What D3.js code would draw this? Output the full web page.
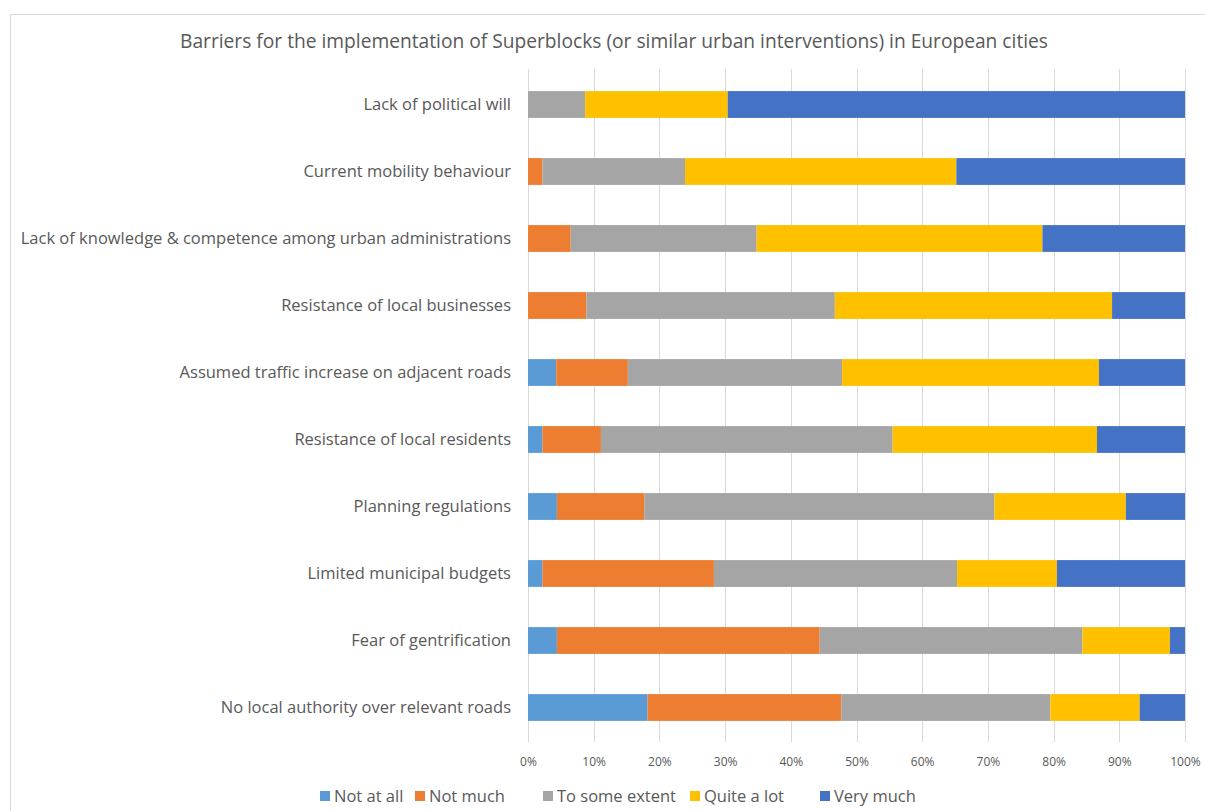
<!DOCTYPE html>
<html>
<head>
<meta charset="utf-8">
<script src="https://cdn.jsdelivr.net/npm/d3@7"></script>
<style>
  html, body { margin: 0; padding: 0; background: #fff; }
  svg { display: block; font-family: "Open Sans", "Noto Sans", sans-serif; }
</style>
</head>
<body>
<svg id="chart" width="1205" height="811"></svg>
<script>
// Survey barriers, top row first
const categories = [
  "Lack of political will",
  "Current mobility behaviour",
  "Lack of knowledge & competence among urban administrations",
  "Resistance of local businesses",
  "Assumed traffic increase on adjacent roads",
  "Resistance of local residents",
  "Planning regulations",
  "Limited municipal budgets",
  "Fear of gentrification",
  "No local authority over relevant roads"
];

// Answer levels (stack order, left to right)
const seriesNames = ["Not at all", "Not much", "To some extent", "Quite a lot", "Very much"];
const seriesColors = ["#5B9BD5", "#ED7D31", "#A5A5A5", "#FFC000", "#4472C4"];

// Share of respondents (%) per level, one array per level, in category order
const notAtAll     = [0,    0,    0,    0,    4.3,  2.2,  4.4,  2.2,  4.4,  18.2];
const notMuch      = [0,    2.2,  6.5,  8.9,  10.9, 8.9,  13.3, 26.1, 40.0, 29.5];
const toSomeExtent = [8.7,  21.7, 28.3, 37.8, 32.6, 44.4, 53.3, 37.0, 40.0, 31.8];
const quiteALot    = [21.7, 41.3, 43.5, 42.2, 39.1, 31.1, 20.0, 15.2, 13.3, 13.6];
const veryMuch     = [69.6, 34.8, 21.7, 11.1, 13.1, 13.4, 9.0,  19.5, 2.3,  6.9];

const tickValues = [0, 10, 20, 30, 40, 50, 60, 70, 80, 90, 100];
const titleText = "Barriers for the implementation of Superblocks (or similar urban interventions) in European cities";

const seriesValues = [notAtAll, notMuch, toSomeExtent, quiteALot, veryMuch];
const rows = categories.map((c, i) => {
  const r = { category: c };
  seriesNames.forEach((s, j) => { r[s] = seriesValues[j][i]; });
  return r;
});

const svg = d3.select("#chart");
const W = 1205, H = 811;

// chart frame
svg.append("rect")
  .attr("x", 10.5).attr("y", 14.5)
  .attr("width", 1300).attr("height", 900)
  .attr("fill", "#fff").attr("stroke", "#d9d9d9").attr("stroke-width", 1);

const margin = { left: 528, right: W - 1185, top: 71, bottom: H - 741 };

const x = d3.scaleLinear().domain([0, 100]).range([margin.left, W - margin.right]);
const y = d3.scaleBand().domain(categories).range([margin.top, H - margin.bottom]).paddingInner(0.6).paddingOuter(0.3);

// title
svg.append("text")
  .attr("x", 614).attr("y", 48)
  .attr("text-anchor", "middle")
  .attr("fill", "#595959")
  .attr("font-size", 19.2)
  .attr("textLength", 868)
  .attr("lengthAdjust", "spacingAndGlyphs")
  .text(titleText);

// vertical gridlines
svg.append("g")
  .selectAll("line")
  .data(tickValues)
  .join("line")
  .attr("x1", d => Math.round(x(d)) + 0.5)
  .attr("x2", d => Math.round(x(d)) + 0.5)
  .attr("y1", margin.top - 2)
  .attr("y2", H - margin.bottom + 1)
  .attr("stroke", "#d9d9d9")
  .attr("stroke-width", 1);

// stacked bars
const stack = d3.stack().keys(seriesNames);
const layers = stack(rows);

svg.append("g")
  .selectAll("g")
  .data(layers)
  .join("g")
  .attr("fill", (d, i) => seriesColors[i])
  .selectAll("rect")
  .data(d => d)
  .join("rect")
  .attr("x", d => x(d[0]))
  .attr("width", d => Math.max(0, x(d[1]) - x(d[0])))
  .attr("y", d => y(d.data.category))
  .attr("height", y.bandwidth());

// category axis labels
const yAxis = d3.axisLeft(y).tickSize(0).tickPadding(17);
const gy = svg.append("g")
  .attr("transform", `translate(${margin.left},0)`)
  .call(yAxis);
gy.select(".domain").remove();
gy.selectAll("text")
  .attr("fill", "#595959")
  .attr("font-size", 16.5)
  .attr("font-family", "'Open Sans', 'Noto Sans', sans-serif");

// percentage axis
const xAxis = d3.axisBottom(x).tickValues(tickValues).tickFormat(d => d + "%").tickSize(0).tickPadding(16);
const gx = svg.append("g")
  .attr("transform", `translate(0,${H - margin.bottom})`)
  .call(xAxis);
gx.select(".domain").remove();
gx.selectAll("text")
  .attr("fill", "#595959")
  .attr("font-size", 12)
  .attr("font-family", "'Open Sans', 'Noto Sans', sans-serif");

// legend
const legendX = [320, 415, 543, 690, 820];
const legend = svg.append("g");
const items = legend.selectAll("g")
  .data(seriesNames)
  .join("g")
  .attr("transform", (d, i) => `translate(${legendX[i]},796)`);
items.append("rect")
  .attr("x", 0).attr("y", -5)
  .attr("width", 10).attr("height", 10)
  .attr("fill", (d, i) => seriesColors[i]);
items.append("text")
  .attr("x", 14).attr("y", 0)
  .attr("dy", "0.35em")
  .attr("fill", "#595959")
  .attr("font-size", 16.5)
  .text(d => d);
</script>
</body>
</html>
